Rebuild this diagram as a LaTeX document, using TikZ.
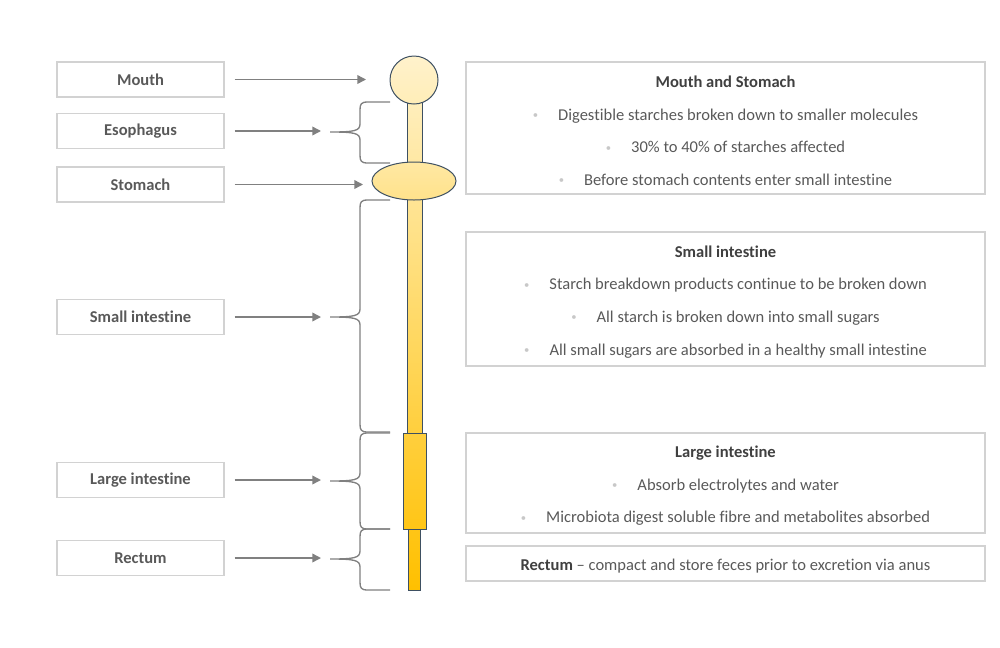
\documentclass[tikz,border=0pt]{standalone}
\usepackage{fontspec}
\setmainfont{Carlito}[Ligatures=NoCommon]
\usetikzlibrary{arrows.meta,positioning,shapes.geometric}
\definecolor{gutTop}{RGB}{255,242,204}
\definecolor{gutBot}{RGB}{255,192,0}
\definecolor{gutLine}{RGB}{62,80,98}
\definecolor{boxLine}{RGB}{210,210,210}
\definecolor{txtGray}{RGB}{89,89,89}
\definecolor{ttlGray}{RGB}{64,64,64}
\definecolor{dotGray}{RGB}{200,200,200}
\definecolor{arrGray}{RGB}{128,128,128}
\newcommand{\bul}{{\color{dotGray}\raisebox{1.2pt}{\fontsize{8}{8}\selectfont\textbullet}}\hspace{15pt}}
\newcommand{\ttl}[1]{\rule{0pt}{13pt}{\bfseries\color{ttlGray}#1}}

\begin{document}
\begin{tikzpicture}[
  x=0.75pt, y=-0.75pt,
  organ/.style={draw=boxLine, line width=0.8pt, minimum width=125.25pt,
    minimum height=26.25pt, text=txtGray, font=\bfseries\fontsize{12.4}{14}\selectfont},
  info/.style={draw=boxLine, line width=0.8pt, minimum width=389.25pt,
    align=center, text=txtGray, font=\fontsize{12.4}{24.4}\selectfont},
  gut/.style={draw=gutLine, line width=0.75pt},
  arr/.style={-{Triangle[length=6.5pt,width=6.5pt]}, draw=arrGray,
    line width=1.1pt, shorten <=7.5pt},
  brace/.style={draw=arrGray, line width=1pt}
]
  \useasboundingbox (0,0) rectangle (1000,647);

  % organ labels
  \node[organ] (mouthL)   at (140.5,79.5)  {Mouth};
  \node[organ] (esoL)     at (140.5,131)   {Esophagus};
  \node[organ] (stomL)    at (140.5,184.5) {Stomach};
  \node[organ] (smallL)   at (140.5,317)   {Small intestine};
  \node[organ] (largeL)   at (140.5,480)   {Large intestine};
  \node[organ] (recL)     at (140.5,558)   {Rectum};

  % the tract
  \draw[gut, top color=gutBot!8!gutTop, bottom color=gutBot!20!gutTop]
    (407,102) rectangle (422,164);
  \draw[gut, top color=gutBot!27!gutTop, bottom color=gutBot!70!gutTop]
    (407,199) rectangle (422,433);
  \draw[gut, top color=gutBot!70!gutTop, bottom color=gutBot!89!gutTop]
    (403,433) rectangle (426,529);
  \draw[gut, top color=gutBot!89!gutTop, bottom color=gutBot]
    (408,529) rectangle (420,590);
  \node[gut, circle, minimum size=36pt, inner sep=0pt,
    top color=gutTop, bottom color=gutBot!10!gutTop] (mouth) at (414,80) {};
  \node[gut, ellipse, minimum width=63pt, minimum height=28.5pt, inner sep=0pt,
    top color=gutBot!20!gutTop, bottom color=gutBot!32!gutTop] (stomach) at (414,181) {};

  % braces
  \foreach \t/\m/\b in {102/132/163, 200/317/432, 433/481/529, 529/559/590}
    \draw[brace] (390,\t) -- (368,\t) .. controls (361,\t) and (360,\t+2) .. (360,\t+8)
      -- (360,\m-8) .. controls (360,\m-1) and (354,\m) .. (330,\m)
      .. controls (354,\m) and (360,\m+1) .. (360,\m+8)
      -- (360,\b-8) .. controls (360,\b-2) and (361,\b) .. (368,\b) -- (390,\b);

  % arrows
  \coordinate (mouthIn) at (366,79.5);
  \coordinate (esoIn)   at (321,131);
  \coordinate (stomIn)  at (363,184.5);
  \coordinate (smallIn) at (321,317);
  \coordinate (largeIn) at (321,480);
  \coordinate (recIn)   at (321,558);
  \draw[arr] (mouthL.east) -- (mouthIn);
  \draw[arr] (esoL.east)   -- (esoIn);
  \draw[arr] (stomL.east)  -- (stomIn);
  \draw[arr] (smallL.east) -- (smallIn);
  \draw[arr] (largeL.east) -- (largeIn);
  \draw[arr] (recL.east)   -- (recIn);

  % notes
  \node[info, minimum height=99pt] (upperN) at (725.5,128)
    {\ttl{Mouth and Stomach}\\
     \bul Digestible starches broken down to smaller molecules\\
     \bul 30\% to 40\% of starches affected\\
     \bul Before stomach contents enter small intestine};
  \node[info, minimum height=100.5pt] (smallN) at (725.5,299)
    {\ttl{Small intestine}\\
     \bul Starch breakdown products continue to be broken down\\
     \bul All starch is broken down into small sugars\\
     \bul All small sugars are absorbed in a healthy small intestine};
  \node[info, minimum height=75pt] (largeN) at (725.5,483)
    {\ttl{Large intestine}\\
     \bul Absorb electrolytes and water\\
     \bul Microbiota digest soluble fibre and metabolites absorbed};
  \node[info, minimum height=26.25pt] (recN) at (725.5,563.5)
    {\ttl{Rectum} -- compact and store feces prior to excretion via anus};
\end{tikzpicture}
\end{document}
